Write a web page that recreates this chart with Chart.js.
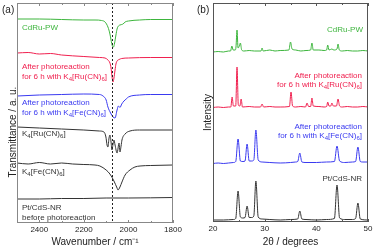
<!DOCTYPE html>
<html><head><meta charset="utf-8">
<script src="https://cdn.jsdelivr.net/npm/chart.js@4.4.1/dist/chart.umd.min.js"></script>
<style>
body{margin:0;width:375px;height:248px;overflow:hidden;background:#fff;font-family:"Liberation Sans",Arial,sans-serif;position:relative}
#wa{position:absolute;left:0;top:0;width:187px;height:248px}
#wb{position:absolute;left:187px;top:0;width:188px;height:248px}
.t{position:absolute;font-size:8px;line-height:10px;white-space:nowrap}
.r{text-align:right;line-height:9px}
.p{position:absolute;font-size:10px;line-height:12px;color:#222}
sub{font-size:6px;vertical-align:-2px;line-height:0}
.yt{position:absolute;font-size:10px;white-space:nowrap;color:#222;transform:translate(-50%,-50%) rotate(-90deg)}
</style></head><body>
<div id="wa"><canvas id="ca"></canvas></div>
<div id="wb"><canvas id="cb"></canvas></div>
<div class="p" style="left:2px;top:4px">(a)</div>
<div class="p" style="left:197px;top:4px">(b)</div>
<div class="yt" style="left:12px;top:132px">Transmittance / a. u.</div>
<div class="t" style="left:22px;top:23px;color:#3db53d">CdRu-PW</div>
<div class="t" style="left:22px;top:62px;color:#f0204f">After photoreaction<br>for 6 h with K<sub>4</sub>[Ru(CN)<sub>6</sub>]</div>
<div class="t" style="left:22px;top:98px;color:#3a3af0">After photoreaction<br>for 6 h with K<sub>4</sub>[Fe(CN)<sub>6</sub>]</div>
<div class="t" style="left:22px;top:129px;color:#333">K<sub>4</sub>[Ru(CN)<sub>6</sub>]</div>
<div class="t" style="left:22px;top:167px;color:#333">K<sub>4</sub>[Fe(CN)<sub>6</sub>]</div>
<div class="t" style="left:22px;top:203px;color:#333;line-height:9.5px">Pt/CdS-NR<br>before photoreaction</div>
<div class="t r" style="right:12px;top:25px;color:#3db53d">CdRu-PW</div>
<div class="t r" style="right:13px;top:71px;color:#f0204f">After photoreaction<br>for 6 h with K<sub>4</sub>[Ru(CN)<sub>6</sub>]</div>
<div class="t r" style="right:13px;top:122px;color:#3a3af0">After photoreaction<br>for 6 h with K<sub>4</sub>[Fe(CN)<sub>6</sub>]</div>
<div class="t r" style="right:13px;top:174px;color:#333">Pt/CdS-NR</div>
<script>
// ---------- Panel (a): IR spectra (wavenumber, transmittance a.u.) ----------
const irGreenX = [2500,2400,2300,2200,2150,2120,2105,2092,2083,2078,2072,2067,2062,2056,2051,2045,2038,2030,2024,2015,2000,1950,1900,1800];
const irGreenY = [204,204,203.5,203,203,202.5,201,196,189,183,177,176,180,188,194,197,198,198.5,199,201,202,203,203.5,203.5];
const irRedX = [2500,2450,2400,2350,2300,2200,2130,2105,2092,2083,2078,2074,2069,2065,2060,2056,2051,2042,2030,2000,1900,1800];
const irRedY = [170,170.5,169,169.5,168,166.5,165.5,165,163,160,155,147,141,145,153,159,162,163.5,164.5,165,165.5,165.5];
const irBlueX = [2500,2400,2300,2200,2130,2114,2100,2092,2080,2069,2060,2051,2045,2038,2030,2020,2010,2000,1950,1900,1800];
const irBlueY = [127,128,128.5,129,128.5,127,123,116,110,106,105,113,117,115.5,119,122,124,126,128,128.5,128.5];
const irRuX = [2500,2400,2300,2200,2130,2110,2101,2096,2092,2087,2083,2078,2074,2069,2065,2060,2051,2042,2038,2033,2029,2015,1993,1950,1800];
const irRuY = [96,95,94,93,92,91,86,78,76,85,88,81,73,79,83,78,70,80,71,77,83,89,92,93,93];
const irFeX = [2500,2450,2400,2350,2300,2250,2200,2150,2128,2100,2083,2065,2051,2047,2038,2029,2015,1993,1971,1948,1900,1800];
const irFeY = [60,59,60.5,59,60,59,58.5,58,57,53,49,42,35,33,36,41,48,53,56,57,57.5,58];
const irPtX = [2500,2400,2300,2200,2100,2000,1800];
const irPtY = [24,24,24.5,24.5,25,25,25.5];
const irDashX = 2072;

// ---------- Panel (b): XRD patterns (2theta, intensity) ----------
const xrdGreenX = [20,21,22,23,23.4,23.65,23.9,24.3,24.45,24.65,24.85,25.1,25.3,25.55,26,27,28,29.3,29.5,29.7,31,32,33,34.7,35.0,35.3,36,37,38,38.9,39.15,39.4,40.5,41.5,42,42.2,42.45,43,43.4,44.0,44.2,44.45,45,46,47,48,49,50];
const xrdGreenY = [170,170.5,170,171,171,176,172,172,175,192,174,176,179,172,171,171.5,171,171,174,171,172,171,171.5,172,180,173,172,171,171.5,172,179,172,172,171.5,172,177,172,173,172,173,178,172,171,171.5,171,171,171.5,171];
const xrdRedX = [20,21,22,23,23.45,23.7,23.95,24.4,24.65,24.9,25.2,25.45,25.7,27,28,29.2,29.5,29.8,31,32,33,34.8,35.1,35.4,36,37,37.9,38.2,38.5,38.9,39.15,39.4,40.5,41.5,42,42.2,42.45,42.8,43.0,43.3,43.9,44.2,44.5,45,46,47,48,49,50];
const xrdRedY = [114.5,115,114.5,115,115,125,116,116,155,117,116,123,115,115.5,115,115,118,115,115.5,115,115,115.5,130,116,115,115.5,115,119,115.5,115.5,124,116,115.5,115,115.5,120,116,116,119,116,116,123,116,115,115.5,115,115,115.5,115];
const xrdBlueX = [20,21,22,23,24,24.4,24.85,25.3,25.8,26.2,26.6,27.0,27.5,27.9,28.3,28.75,29.5,31,33,35,36.0,36.4,36.8,37.2,38,40,42,43.5,44.0,44.5,45.5,47,47.6,48.05,48.5,49,50];
const xrdBlueY = [58.5,59,58.5,59,59.5,60.5,83,61,60.5,61,78,61,61,62,92,62,60,59.5,59,59.5,60,60.5,69,60,59.5,59.5,60,60.5,76,61,59.5,60,60.5,75,60.5,60,60];
const xrdBlackX = [20,22,24,24.4,24.85,25.3,25.8,26.2,26.6,27.0,27.5,27.9,28.3,28.75,29.5,31,33,35,36.4,36.8,37.2,38,40,42,43.5,44.0,44.5,45.5,47,47.6,48.05,48.5,50];
const xrdBlackY = [2,2,2.5,3.5,31,5,4,4.5,16,4.5,4.5,6,41,5,3,2.5,2,2.5,3,11,3,2.5,2,2.5,3.5,37,4,2.5,2.5,3.5,19,3,2];

const GREEN = '#3db53d', RED = '#f0204f', BLUE = '#3a3af0', BLACK = '#333333';
const FONT = '"Liberation Sans", Arial, sans-serif';

function pts(xs, ys){ return xs.map((x,i)=>({x, y: ys[i]})); }
function ds(xs, ys, color){
  return {data: pts(xs, ys), borderColor: color, borderWidth: 1, pointRadius: 0, fill: false, cubicInterpolationMode: 'monotone'};
}

const framePlugin = {
  id: 'frame',
  afterDraw(chart, args, o){
    const {ctx, chartArea:{left,right,top,bottom}, scales:{x}} = chart;
    ctx.save();
    if (o.dashX !== undefined) {
      const px = Math.round(x.getPixelForValue(o.dashX)) + 0.5;
      ctx.strokeStyle = '#222'; ctx.lineWidth = 1; ctx.setLineDash([2,2]);
      ctx.beginPath(); ctx.moveTo(px, top); ctx.lineTo(px, bottom); ctx.stroke();
      ctx.setLineDash([]);
    }
    ctx.strokeStyle = o.color; ctx.lineWidth = 1;
    ctx.strokeRect(Math.round(left)+0.5, Math.round(top)+0.5, Math.round(right-left)-1, Math.round(bottom-top)-1);
    for (const t of x.ticks) {
      const px = Math.round(x.getPixelForValue(t.value)) + 0.5;
      const len = (t.value % o.major === 0) ? 3 : 2;
      ctx.beginPath();
      ctx.moveTo(px, bottom); ctx.lineTo(px, bottom - len);
      ctx.moveTo(px, top); ctx.lineTo(px, top + len);
      ctx.stroke();
    }
    ctx.restore();
  }
};

function makeChart(id, datasets, xopt, yopt, frame, pad, xh, yw, ytitle){
  return new Chart(document.getElementById(id), {
    type: 'line',
    data: {datasets},
    plugins: [framePlugin],
    options: {
      responsive: true, maintainAspectRatio: false, animation: false,
      layout: {padding: pad},
      plugins: {legend: {display: false}, tooltip: {enabled: false}, frame},
      scales: {
        x: Object.assign({
          type: 'linear',
          grid: {display: false, drawTicks: false},
          border: {display: false},
          ticks: {autoSkip: false, maxRotation: 0, padding: 2, color: '#222', font: {family: FONT, size: 8}},
          title: {display: true, color: '#222', font: {family: FONT, size: 10}, padding: {top: 0, bottom: 0}},
          afterFit(s){ s.height = xh; }
        }, xopt),
        y: Object.assign({
          type: 'linear',
          display: !!ytitle,
          grid: {display: false, drawTicks: false},
          border: {display: false},
          ticks: {display: false},
          title: {display: !!ytitle, text: ytitle || '', color: '#222', font: {family: FONT, size: 10}, padding: {top: 15, bottom: 0}},
          afterFit(s){ s.width = yw; }
        }, yopt)
      }
    }
  });
}

makeChart('ca',
  [ds(irGreenX, irGreenY, GREEN), ds(irRedX, irRedY, RED), ds(irBlueX, irBlueY, BLUE),
   ds(irRuX, irRuY, BLACK), ds(irFeX, irFeY, BLACK), ds(irPtX, irPtY, BLACK)],
  {min: 1800, max: 2500, reverse: true,
   ticks: {stepSize: 100, autoSkip: false, maxRotation: 0, padding: 2, color: '#222', font: {family: FONT, size: 8},
           callback: v => (v % 200 === 0 ? String(v) : '')},
   title: {display: true, text: 'Wavenumber / cm\u207B\u00B9', color: '#222', font: {family: FONT, size: 10}, padding: {top: 0, bottom: 0}}},
  {min: 0, max: 220},
  {color: '#888', major: 200, dashX: irDashX},
  {left: 17, right: 14, top: 3, bottom: 0}, 25, 0, null);

makeChart('cb',
  [ds(xrdGreenX, xrdGreenY, GREEN), ds(xrdRedX, xrdRedY, RED), ds(xrdBlueX, xrdBlueY, BLUE), ds(xrdBlackX, xrdBlackY, BLACK)],
  {min: 20, max: 50,
   ticks: {stepSize: 5, autoSkip: false, maxRotation: 0, padding: 2, color: '#222', font: {family: FONT, size: 8},
           callback: v => (v % 10 === 0 ? String(v) : '')},
   title: {display: true, text: '2\u03B8 / degrees', color: '#222', font: {family: FONT, size: 10}, padding: {top: 0, bottom: 0}}},
  {min: 0, max: 219},
  {color: '#555', major: 10},
  {left: 0, right: 7, top: 3, bottom: 0}, 26, 26, 'Intensity');
</script>
</body></html>
